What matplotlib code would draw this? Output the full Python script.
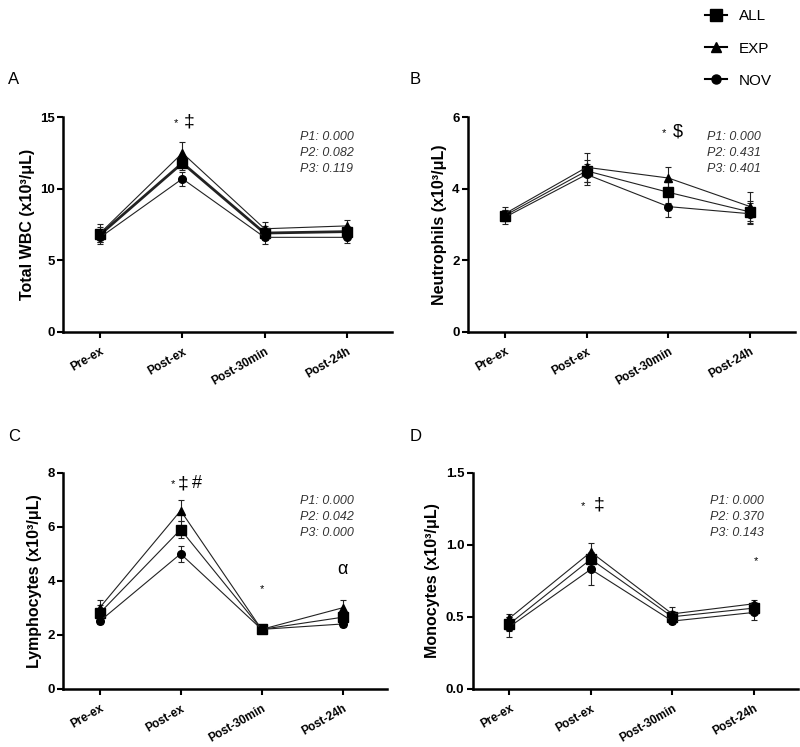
import matplotlib

matplotlib.use("Agg")
import matplotlib.pyplot as plt
from matplotlib.lines import Line2D

plt.rcParams["font.family"] = ["Liberation Sans", "DejaVu Sans"]

# -----------------------------------------------------------------------------
# Data
# -----------------------------------------------------------------------------
timepoints = ["Pre-ex", "Post-ex", "Post-30min", "Post-24h"]
groups = ["ALL", "EXP", "NOV"]

wbc_all = [6.8, 11.8, 6.9, 7.0]
wbc_exp = [6.9, 12.5, 7.2, 7.4]
wbc_nov = [6.6, 10.7, 6.6, 6.6]
wbc_err_all = [0.5, 0.5, 0.5, 0.4]
wbc_err_exp = [0.6, 0.8, 0.5, 0.4]
wbc_err_nov = [0.5, 0.5, 0.5, 0.4]

neu_all = [3.25, 4.5, 3.9, 3.35]
neu_exp = [3.3, 4.6, 4.3, 3.5]
neu_nov = [3.2, 4.4, 3.5, 3.3]
neu_err_all = [0.15, 0.3, 0.3, 0.3]
neu_err_exp = [0.2, 0.4, 0.3, 0.4]
neu_err_nov = [0.2, 0.3, 0.3, 0.3]

lym_all = [2.8, 5.9, 2.2, 2.65]
lym_exp = [3.0, 6.6, 2.2, 3.0]
lym_nov = [2.5, 5.0, 2.2, 2.4]
lym_err_all = [0.3, 0.3, 0.1, 0.2]
lym_err_exp = [0.3, 0.4, 0.1, 0.3]
lym_err_nov = [0.1, 0.3, 0.1, 0.1]

mon_all = [0.45, 0.90, 0.50, 0.56]
mon_exp = [0.49, 0.95, 0.52, 0.59]
mon_nov = [0.43, 0.83, 0.47, 0.53]
mon_err_all = [0.05, 0.05, 0.04, 0.04]
mon_err_exp = [0.03, 0.06, 0.05, 0.03]
mon_err_nov = [0.07, 0.11, 0.02, 0.05]

wbc_p = ["P1: 0.000", "P2: 0.082", "P3: 0.119"]
neu_p = ["P1: 0.000", "P2: 0.431", "P3: 0.401"]
lym_p = ["P1: 0.000", "P2: 0.042", "P3: 0.000"]
mon_p = ["P1: 0.000", "P2: 0.370", "P3: 0.143"]

MARKERS = {"ALL": "s", "EXP": "^", "NOV": "o"}
MSIZE = {"ALL": 7, "EXP": 5.5, "NOV": 5.5}

fig = plt.figure(figsize=(8.0, 7.47), dpi=100)

ax_a = fig.add_axes([0.079, 0.556, 0.411, 0.287])
ax_b = fig.add_axes([0.585, 0.556, 0.409, 0.287])
ax_c = fig.add_axes([0.079, 0.078, 0.405, 0.289])
ax_d = fig.add_axes([0.591, 0.078, 0.407, 0.289])


def draw_panel(ax, series, errs, ylim, yticks, ylabel, ptext, pxy, all_lw=0.8):
    x = list(range(len(timepoints)))
    for g, vals, err in zip(groups, series, errs):
        lw = all_lw if g == "ALL" else 0.8
        ax.errorbar(x, vals, yerr=err, color="#222222", lw=lw,
                    marker=MARKERS[g], ms=MSIZE[g], mfc="black", mec="black",
                    ecolor="#222222", elinewidth=0.8, capsize=2, capthick=0.8,
                    zorder=3)
    ax.set_xlim(-0.45, 3.55)
    ax.set_ylim(*ylim)
    ax.set_yticks(yticks)
    ax.set_xticks(x)
    ax.set_xticklabels(timepoints, rotation=30, ha="right",
                       rotation_mode="anchor", fontsize=8.5, fontweight="bold")
    for lbl in ax.get_yticklabels():
        lbl.set_fontweight("bold")
        lbl.set_fontsize(9.5)
    ax.set_ylabel(ylabel, fontsize=11.5, fontweight="bold")
    for s in ["top", "right"]:
        ax.spines[s].set_visible(False)
    for s in ["left", "bottom"]:
        ax.spines[s].set_linewidth(1.8)
    ax.tick_params(width=1.5, length=4, direction="out", pad=2)
    ax.tick_params(axis="x", pad=6)
    for i, t in enumerate(ptext):
        ax.text(pxy[0], pxy[1] - i * 0.075, t, transform=ax.transAxes,
                fontsize=9, style="italic", color="#333333", va="center")


draw_panel(ax_a, [wbc_all, wbc_exp, wbc_nov],
           [wbc_err_all, wbc_err_exp, wbc_err_nov],
           (0, 15), [0, 5, 10, 15], "Total WBC (x10³/μL)", wbc_p,
           (0.72, 0.91), all_lw=2.0)
draw_panel(ax_b, [neu_all, neu_exp, neu_nov],
           [neu_err_all, neu_err_exp, neu_err_nov],
           (0, 6), [0, 2, 4, 6], "Neutrophils (x10³/μL)", neu_p,
           (0.73, 0.91))
draw_panel(ax_c, [lym_all, lym_exp, lym_nov],
           [lym_err_all, lym_err_exp, lym_err_nov],
           (0, 8), [0, 2, 4, 6, 8], "Lymphocytes (x10³/μL)", lym_p,
           (0.73, 0.87))
draw_panel(ax_d, [mon_all, mon_exp, mon_nov],
           [mon_err_all, mon_err_exp, mon_err_nov],
           (0, 1.5), [0.0, 0.5, 1.0, 1.5], "Monocytes (x10³/μL)", mon_p,
           (0.73, 0.87))
ax_d.set_yticklabels(["0.0", "0.5", "1.0", "1.5"], fontweight="bold", fontsize=9.5)

# significance marks
ax_a.text(0.92, 14.6, "*", fontsize=8, ha="center", va="center")
ax_a.text(1.08, 14.7, "‡", fontsize=14, ha="center", va="center")
ax_b.text(1.95, 5.55, "*", fontsize=8, ha="center", va="center")
ax_b.text(2.12, 5.58, "$", fontsize=13, ha="center", va="center")
ax_c.text(0.9, 7.6, "*", fontsize=8, ha="center", va="center")
ax_c.text(1.03, 7.6, "‡", fontsize=14, ha="center", va="center")
ax_c.text(1.2, 7.6, "#", fontsize=13, ha="center", va="center")
ax_c.text(2.0, 3.7, "*", fontsize=8, ha="center", va="center")
ax_c.text(3.0, 4.4, "α", fontsize=13, ha="center", va="center")
ax_d.text(0.9, 1.27, "*", fontsize=8, ha="center", va="center")
ax_d.text(1.1, 1.28, "‡", fontsize=14, ha="center", va="center")
ax_d.text(3.03, 0.89, "*", fontsize=8, ha="center", va="center")

# panel letters
for lbl, (px, py) in zip("ABCD", [(8, 80), (410, 80), (8, 437), (410, 437)]):
    fig.text(px / 800, 1 - py / 747, lbl, fontsize=12, va="center")

# legend
handles = [Line2D([0], [0], color="black", lw=1.5, marker=MARKERS[g],
                  ms=MSIZE[g] + 1, mfc="black", mec="black") for g in groups]
fig.legend(handles, groups, loc="upper left", bbox_to_anchor=(0.87, 1.0),
           frameon=False, fontsize=11, handlelength=1.4, labelspacing=1.2,
           borderaxespad=0.2)

fig.savefig("out.png", dpi=100)
